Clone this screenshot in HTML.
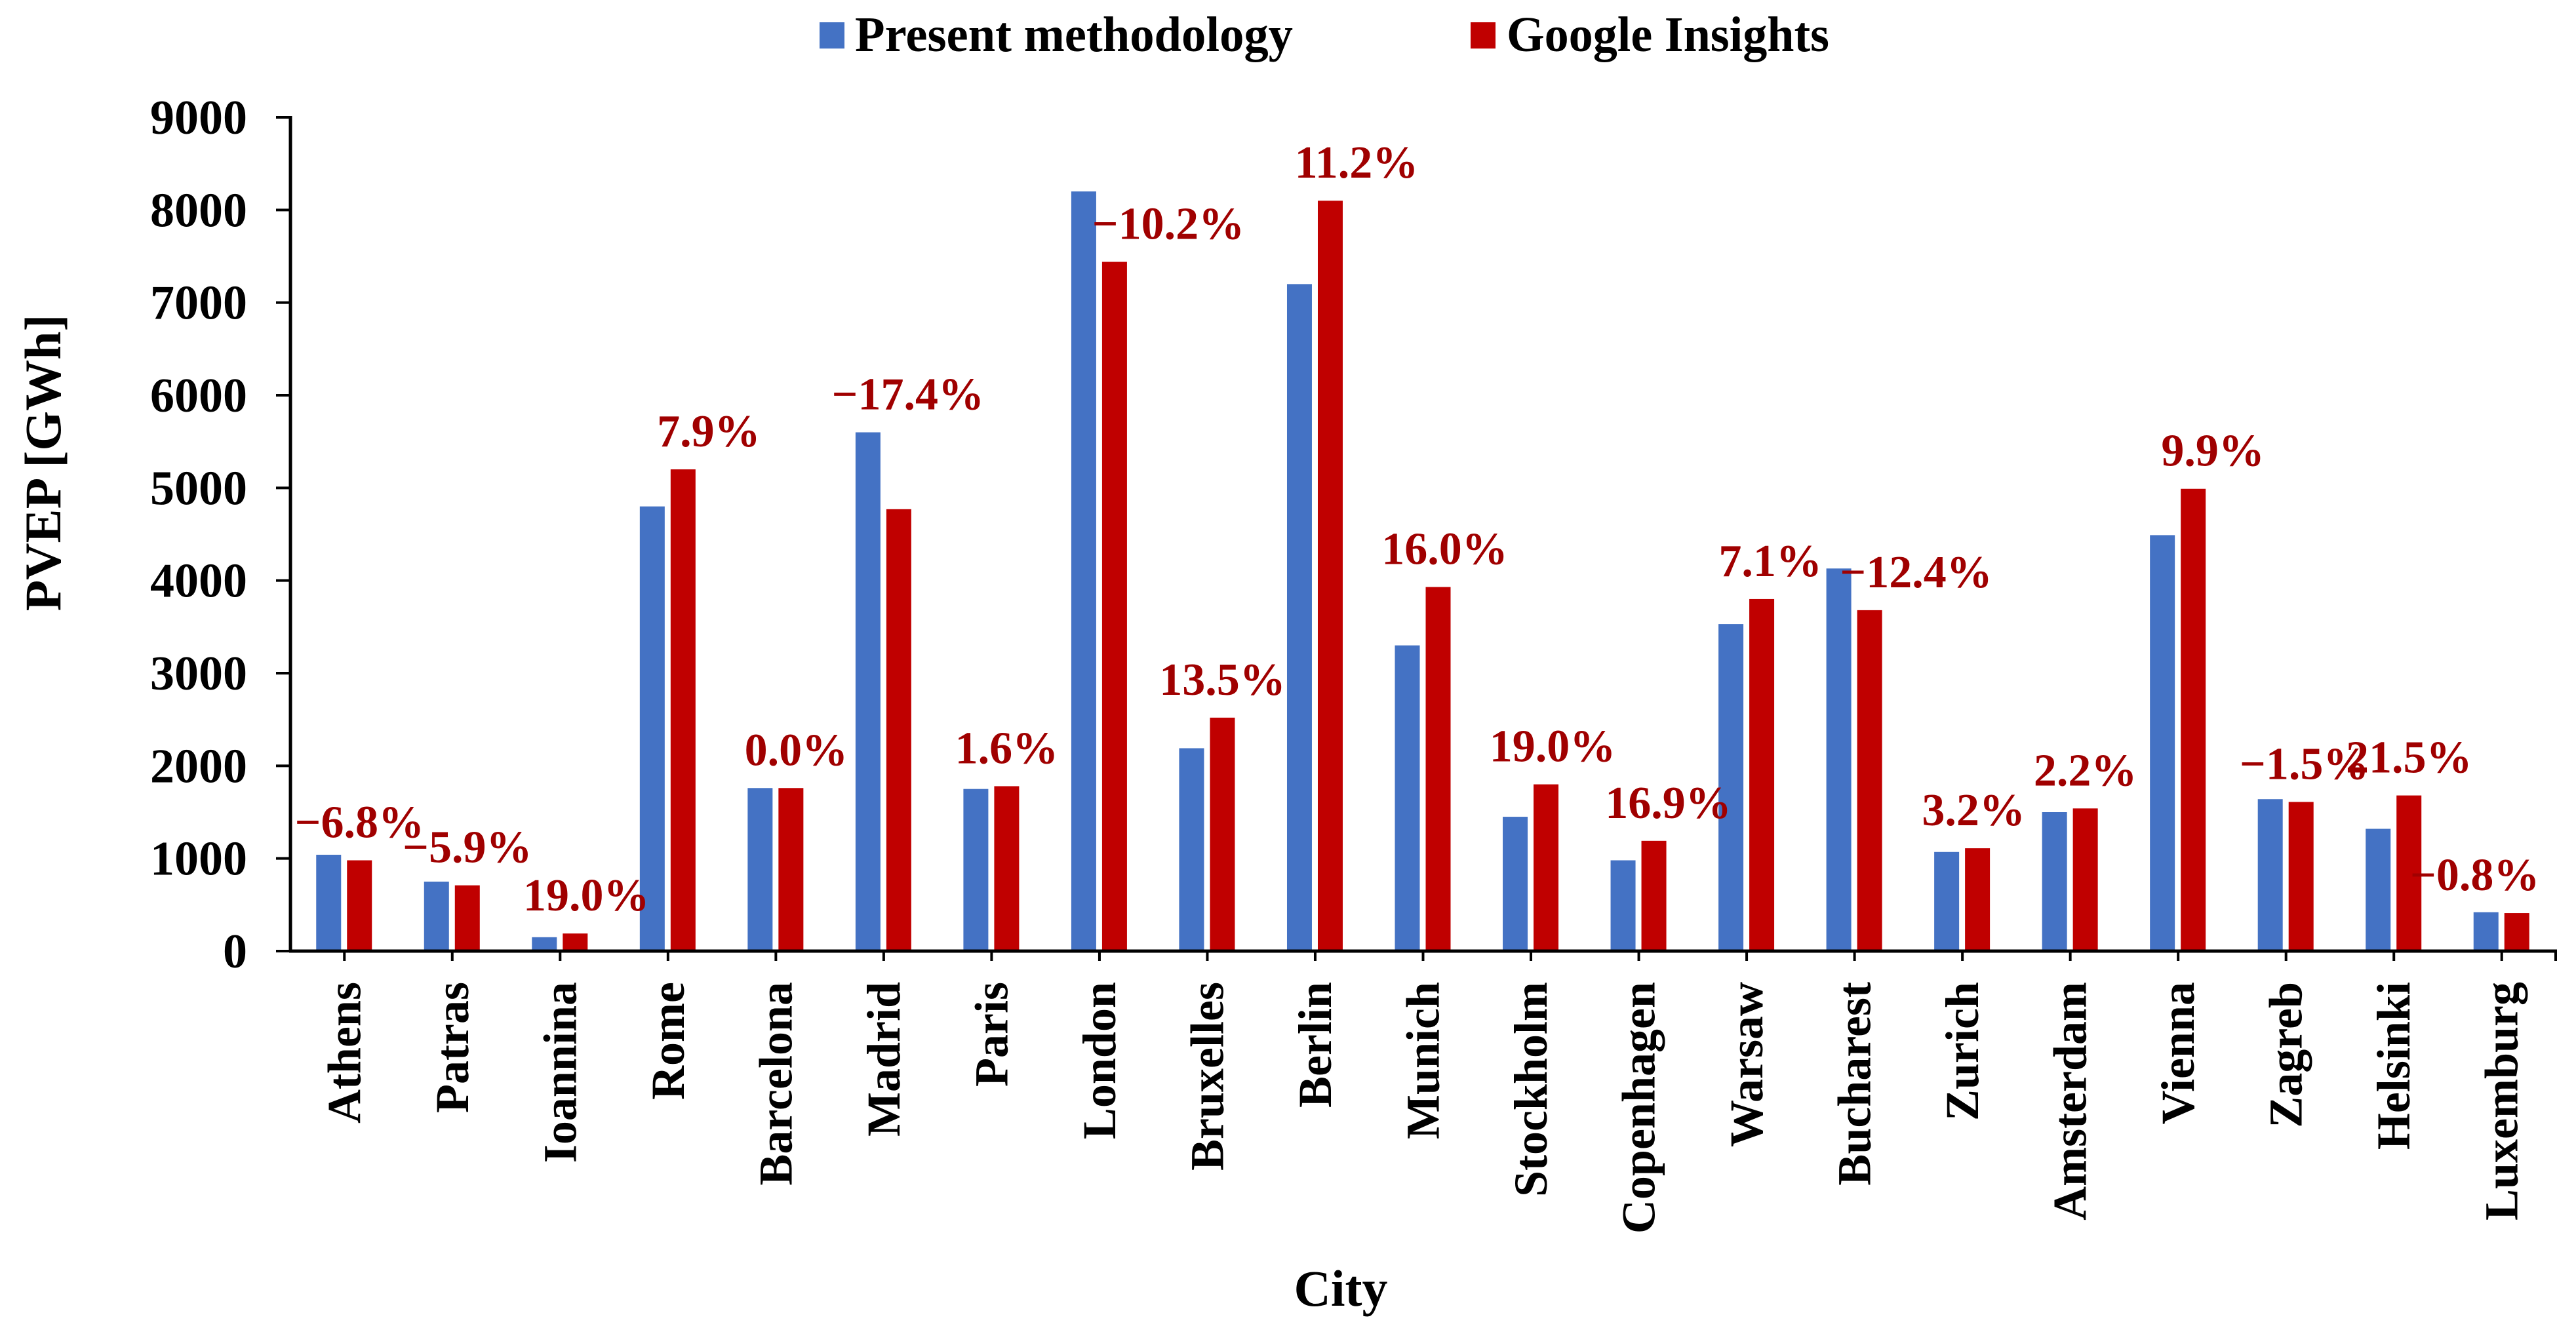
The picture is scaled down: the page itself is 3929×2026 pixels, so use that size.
<!DOCTYPE html>
<html><head><meta charset="utf-8"><style>
html,body{margin:0;padding:0;background:#fff;}
svg{display:block;font-family:"Liberation Serif",serif;font-weight:bold;}
</style></head><body>
<svg id="chart" width="3929" height="2026" viewBox="0 0 3929 2026" xmlns="http://www.w3.org/2000/svg">
<g>
  <rect x="1250" y="34" width="38" height="40" fill="#4472C4"/>
  <text x="1304" y="78" font-size="76" textLength="668" lengthAdjust="spacingAndGlyphs">Present methodology</text>
  <rect x="2243" y="34" width="38" height="40" fill="#C00000"/>
  <text x="2298" y="78" font-size="76" textLength="492" lengthAdjust="spacingAndGlyphs">Google Insights</text>
</g>
<text transform="translate(92,706) rotate(-90)" text-anchor="middle" font-size="78">PVEP [GWh]</text>
<text x="2045" y="1992" text-anchor="middle" font-size="78">City</text>
<g id="bars"></g>
<g id="labels"></g>
<g id="axes"></g>
</svg>
<script>
const cities = ["Athens","Patras","Ioannina","Rome","Barcelona","Madrid","Paris","London","Bruxelles","Berlin","Munich","Stockholm","Copenhagen","Warsaw","Bucharest","Zurich","Amsterdam","Vienna","Zagreb","Helsinki","Luxemburg"];
const present = [1040,750,150,4800,1760,5600,1750,8200,2190,7200,3300,1450,980,3530,4130,1070,1500,4490,1640,1320,420];
const google = [980,710,190,5200,1760,4770,1780,7440,2520,8100,3930,1800,1190,3800,3680,1110,1540,4990,1610,1680,410];
const diffLabels = ["−6.8%","−5.9%","19.0%","7.9%","0.0%","−17.4%","1.6%","−10.2%","13.5%","11.2%","16.0%","19.0%","16.9%","7.1%","−12.4%","3.2%","2.2%","9.9%","−1.5%","21.5%","−0.8%"];
const labelShift = [0,0,17,39,8,14,0,82,0,40,10,10,22,13,71,-6,0,30,5,0,-64];
const labelAnchor = ["g","g","g","g","g","p","g","g","g","g","g","g","g","g","g","g","g","g","g","g","g"];
const yTicks = [0,1000,2000,3000,4000,5000,6000,7000,8000,9000];

const NS = "http://www.w3.org/2000/svg";
const X0 = 443, X1 = 3898, Y0 = 1451, YTOP = 179, YMAX = 9000;
const band = (X1 - X0) / cities.length;
function xc(i){ return X0 + band * (i + 0.5); }
function y(v){ return Y0 - (v / YMAX) * (Y0 - YTOP); }
function mk(tag, attrs, parent){
  const e = document.createElementNS(NS, tag);
  for (const k in attrs) e.setAttribute(k, attrs[k]);
  parent.appendChild(e);
  return e;
}
const bars = document.getElementById('bars');
const labels = document.getElementById('labels');
const axes = document.getElementById('axes');

cities.forEach((c, i) => {
  const cx = xc(i);
  const b = mk('rect', {x: cx - 43, y: y(present[i]), width: 38, height: Y0 - y(present[i]), fill: '#4472C4'}, bars);
  
  
  const r = mk('rect', {x: cx + 4, y: y(google[i]), width: 38, height: Y0 - y(google[i]), fill: '#C00000'}, bars);
  
  
  const base = labelAnchor[i] === 'p' ? present[i] : google[i];
  const t = mk('text', {x: cx + 23 + labelShift[i], y: y(base) - 35, 'text-anchor': 'middle', 'font-size': 70, fill: '#A00000'}, labels);
  t.textContent = diffLabels[i];
  
  
  const tk = mk('line', {x1: cx, x2: cx, y1: Y0, y2: Y0 + 15, stroke: '#000', 'stroke-width': 4}, axes);
  
  
  const cl = mk('text', {transform: 'translate(' + (cx + 24) + ',1498) rotate(-90)', 'text-anchor': 'end', 'font-size': 72}, axes);
  cl.textContent = c;
  
  
});
const endTick = mk('line', {x1: X1, x2: X1, y1: Y0, y2: Y0 + 15, stroke: '#000', 'stroke-width': 4}, axes);



yTicks.forEach(v => {
  const l = mk('line', {x1: 421, x2: X0, y1: y(v), y2: y(v), stroke: '#000', 'stroke-width': 4}, axes);
  
  
  const t = mk('text', {x: 377, y: y(v) + 25, 'text-anchor': 'end', 'font-size': 74}, axes);
  t.textContent = v;
  
  
});
const ya = mk('line', {x1: X0, x2: X0, y1: YTOP - 2, y2: Y0 + 2, stroke: '#000', 'stroke-width': 5}, axes);


const xa = mk('line', {x1: X0 - 2, x2: X1 + 2, y1: Y0, y2: Y0, stroke: '#000', 'stroke-width': 5}, axes);


</script>
</body></html>
